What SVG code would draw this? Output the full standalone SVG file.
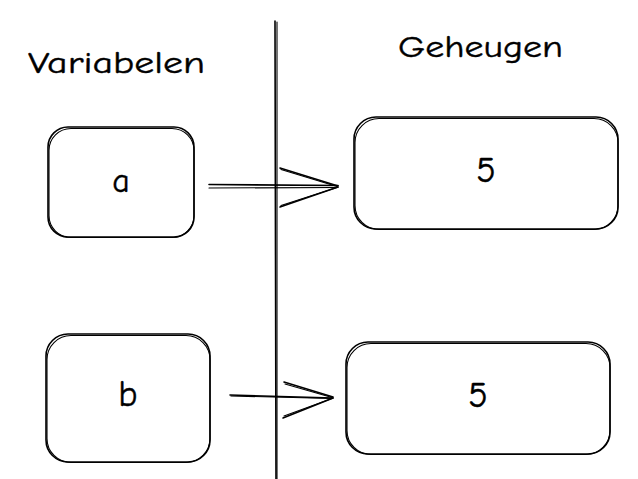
<svg xmlns="http://www.w3.org/2000/svg" width="638" height="479" viewBox="0 0 638 479">
<style>
.s{fill:none;stroke:#000;stroke-width:1.6;stroke-linecap:round;stroke-linejoin:round}
.t{stroke-width:1.1}
.lbl{font-family:"Comic Neue","Liberation Sans",sans-serif;fill:#000;stroke:#000;stroke-width:0.4}
</style>
<rect width="638" height="479" fill="#fff"/>
<g id="divider">
<path class="s" d="M275 21 L276 479"/>
<path class="s t" d="M277 22 L277 479"/>
</g>
<g id="title-variabelen"><text class="lbl" x="28" y="73" font-size="31" textLength="177" lengthAdjust="spacingAndGlyphs">Variabelen</text></g>
<g id="title-geheugen"><text class="lbl" x="398" y="57" font-size="31" textLength="165" lengthAdjust="spacingAndGlyphs">Geheugen</text></g>
<g id="node-a">
<rect class="s" x="48" y="127" width="146" height="110" rx="20"/>
<rect class="s t" x="49" y="128.5" width="145" height="109" rx="22"/>
<text class="lbl" x="121" y="192" font-size="34" text-anchor="middle">a</text>
</g>
<g id="node-b">
<rect class="s" x="46" y="334" width="164" height="128" rx="22"/>
<rect class="s t" x="47" y="335.5" width="163" height="127" rx="24"/>
<text class="lbl" x="128" y="406" font-size="36" text-anchor="middle">b</text>
</g>
<g id="node-mem1">
<rect class="s" x="354" y="117" width="264" height="112" rx="22"/>
<rect class="s t" x="355" y="118.5" width="263" height="111" rx="24"/>
<text class="lbl" x="486" y="182" font-size="36" text-anchor="middle">5</text>
</g>
<g id="node-mem2">
<rect class="s" x="346" y="342" width="264" height="112" rx="22"/>
<rect class="s t" x="347" y="343.5" width="263" height="111" rx="24"/>
<text class="lbl" x="478" y="407" font-size="36" text-anchor="middle">5</text>
</g>
<g id="connectors">
<path class="s" d="M209 184.5 L338 185.5"/>
<path class="s t" d="M209 188 L338 187.5"/>
<path class="s" d="M280 168 L338 186 M280 207 L338 187"/>
<path class="s t" d="M281 169.5 L337 186.5 M281 205.5 L337 187.5"/>
<path class="s" d="M230 395 L333 398"/>
<path class="s t" d="M231 396 L332 398.5"/>
<path class="s" d="M284 382 L333 397 M283 418 L333 398"/>
<path class="s t" d="M285 384 L332 397.5 M284 416 L332 398.5"/>
</g>
</svg>
